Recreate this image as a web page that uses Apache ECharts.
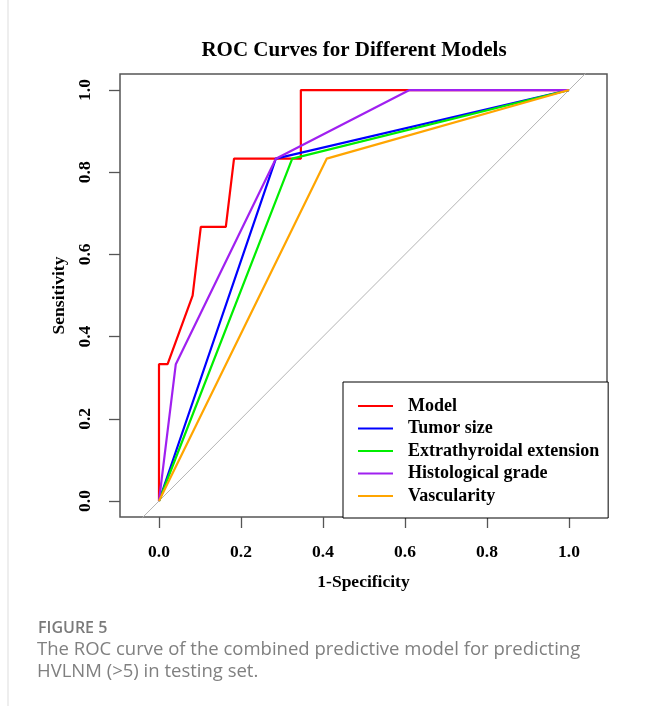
<!DOCTYPE html>
<html>
<head>
<meta charset="utf-8">
<script src="https://cdn.jsdelivr.net/npm/echarts@6/dist/echarts.min.js"></script>
<style>html,body{margin:0;padding:0;background:#fff;}#c{width:646px;height:706px;}</style>
</head>
<body>
<div id="c"></div>
<script>
// ---- data ----
const seriesNames = ["Model", "Tumor size", "Extrathyroidal extension", "Histological grade", "Vascularity"];
const modelFPR = [0, 0, 0.021, 0.082, 0.102, 0.163, 0.183, 0.346, 0.346, 1];
const modelTPR = [0, 0.333, 0.333, 0.5, 0.667, 0.667, 0.833, 0.833, 1, 1];
const tumorFPR = [0, 0.285, 1];
const tumorTPR = [0, 0.833, 1];
const extraFPR = [0, 0.325, 1];
const extraTPR = [0, 0.833, 1];
const histoFPR = [0, 0.041, 0.285, 0.611, 1];
const histoTPR = [0, 0.333, 0.833, 1, 1];
const vascFPR = [0, 0.409, 1];
const vascTPR = [0, 0.833, 1];
const diagRef = [-0.2, 1.2];
const tickValues = [0, 0.2, 0.4, 0.6, 0.8, 1.0];
const tickLabels = ["0.0", "0.2", "0.4", "0.6", "0.8", "1.0"];

const colors = ["#FF0000", "#0000FF", "#00EE00", "#A020F0", "#FFA500"];
const pairs = [[modelFPR, modelTPR], [tumorFPR, tumorTPR], [extraFPR, extraTPR], [histoFPR, histoTPR], [vascFPR, vascTPR]];
const zip = (a, b) => a.map((v, i) => [v, b[i]]);

const serif = "Liberation Serif";
const chart = echarts.init(document.getElementById('c'), null, {renderer: 'canvas'});

const series = [{
  name: 'ref', type: 'line', data: zip(diagRef, diagRef), symbol: 'none', silent: true,
  lineStyle: {color: '#B4B4B4', width: 1}, clip: true, z: 1
}];
seriesNames.forEach((n, i) => {
  series.push({
    name: n, type: 'line', data: zip(pairs[i][0], pairs[i][1]), symbol: 'none',
    lineStyle: {color: colors[i], width: 2.2}, itemStyle: {color: colors[i]}, clip: true, z: 2 + i
  });
});

const fmt = v => { const i = tickValues.findIndex(t => Math.abs(t - v) < 1e-6); return i >= 0 ? tickLabels[i] : ''; };

chart.setOption({
  animation: false,
  backgroundColor: '#fff',
  title: [{
    text: 'ROC Curves for Different Models', left: 354, top: 40, textAlign: 'center', padding: 0,
    textStyle: {fontFamily: serif, fontWeight: 'bold', fontSize: 21, color: '#000'}
  }, {
    text: 'FIGURE 5', left: 38, top: 620, padding: 0,
    textStyle: {fontFamily: 'Open Sans', fontWeight: 600, fontSize: 16, color: '#7a7a7a'}
  }, {
    text: 'The ROC curve of the combined predictive model for predicting\nHVLNM (>5) in testing set.', left: 37, top: 638, padding: 0,
    textStyle: {fontFamily: 'Open Sans', fontWeight: 'normal', fontSize: 18.5, lineHeight: 22.5, color: '#808080'}
  }],
  grid: {left: 120, top: 74, width: 487, height: 443, show: true, borderColor: '#555', borderWidth: 1.5, backgroundColor: 'transparent'},
  xAxis: {
    type: 'value', min: -0.0951, max: 1.0927,
    name: '1-Specificity', nameLocation: 'middle', nameGap: 56,
    nameTextStyle: {fontFamily: serif, fontWeight: 'bold', fontSize: 17.5, color: '#000'},
    axisLine: {show: false, onZero: false}, splitLine: {show: false},
    axisTick: {show: true, length: 11, inside: false, customValues: tickValues, lineStyle: {color: '#555', width: 1.3}},
    axisLabel: {customValues: tickValues, formatter: fmt, margin: 26, fontFamily: serif, fontWeight: 'bold', fontSize: 17.5, color: '#000'}
  },
  yAxis: {
    type: 'value', min: -0.0389, max: 1.039,
    name: 'Sensitivity', nameLocation: 'middle', nameGap: 52, nameRotate: 90,
    nameTextStyle: {fontFamily: serif, fontWeight: 'bold', fontSize: 17.5, color: '#000'},
    axisLine: {show: false, onZero: false}, splitLine: {show: false},
    axisTick: {show: true, length: 11, inside: false, customValues: tickValues, lineStyle: {color: '#555', width: 1.3}},
    axisLabel: {customValues: tickValues, formatter: fmt, rotate: 90, margin: 26, fontFamily: serif, fontWeight: 'bold', fontSize: 17.5, color: '#000'}
  },
  legend: {
    data: seriesNames, orient: 'vertical', left: 343, top: 382,
    padding: [15, 9, 13, 15], itemGap: 4.5, itemWidth: 35, itemHeight: 2, icon: 'rect',
    borderColor: '#000', borderWidth: 1, backgroundColor: '#fff',
    textStyle: {fontFamily: serif, fontWeight: 'bold', fontSize: 18, color: '#000', padding: [0, 0, 0, 10]}
  },
  graphic: [{type: 'line', shape: {x1: 8, y1: 0, x2: 8, y2: 706}, style: {stroke: '#dddddd', lineWidth: 1}, silent: true}],
  series: series
});
</script>
</body>
</html>
